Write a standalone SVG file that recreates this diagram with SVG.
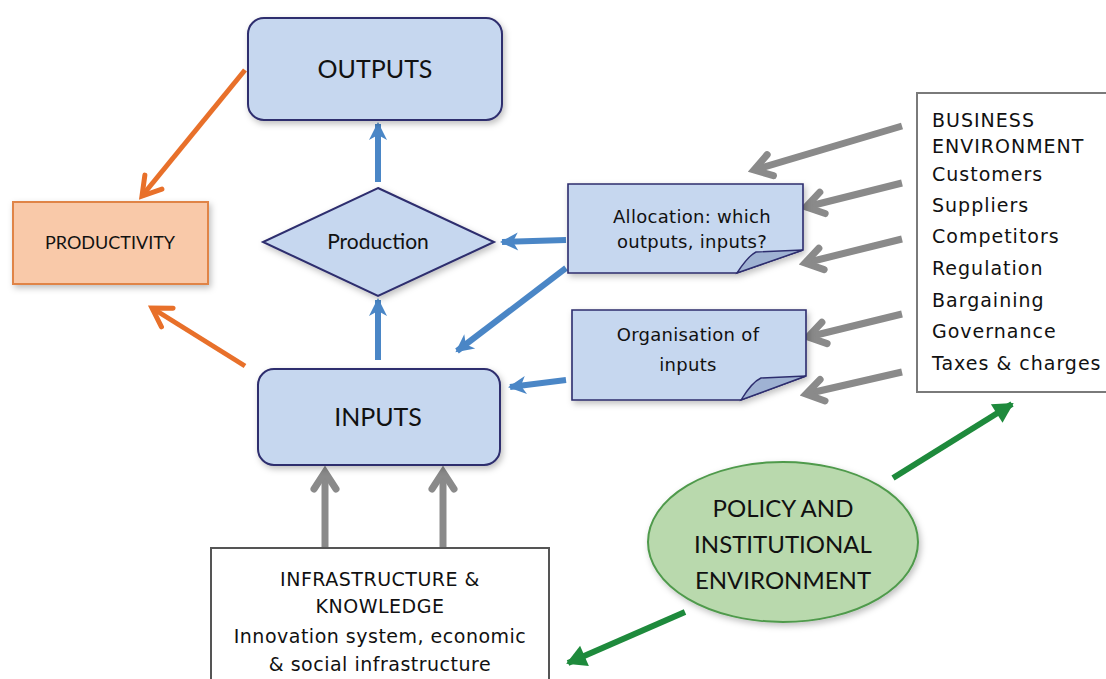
<svg xmlns="http://www.w3.org/2000/svg" width="1106" height="679" viewBox="0 0 1106 679">
<defs>
<filter id="sh" x="-10%" y="-10%" width="130%" height="130%">
<feDropShadow dx="2" dy="3" stdDeviation="3" flood-color="#000" flood-opacity="0.25"/>
</filter>
<marker id="mGray" markerUnits="userSpaceOnUse" viewBox="-24 -16 30 32" refX="0" refY="0" markerWidth="30" markerHeight="32" orient="auto">
<path d="M-17 -11 L0 0 L-17 11" fill="none" stroke="#8a8a8a" stroke-width="7" stroke-linecap="round" stroke-linejoin="miter"/>
</marker>
<marker id="mOrange" markerUnits="userSpaceOnUse" viewBox="-24 -16 30 32" refX="0" refY="0" markerWidth="30" markerHeight="32" orient="auto">
<path d="M-18 -11 L0 0 L-18 11" fill="none" stroke="#e8702a" stroke-width="5" stroke-linecap="round"/>
</marker>
<marker id="mBlue" markerUnits="userSpaceOnUse" viewBox="-20 -12 24 24" refX="0" refY="0" markerWidth="24" markerHeight="24" orient="auto">
<path d="M2 0 L-16 -9 L-11 0 L-16 9 Z" fill="#4a86c6"/>
</marker>
<marker id="mGreen" markerUnits="userSpaceOnUse" viewBox="-22 -14 26 28" refX="0" refY="0" markerWidth="26" markerHeight="28" orient="auto">
<path d="M2 0 L-18 -11 L-18 11 Z" fill="#1e8a3c"/>
</marker>
</defs>
<style>
.blue{fill:#c6d7ef;stroke:#2d2d6e;stroke-width:2}
.note{fill:#c6d7ef;stroke:#2d2d6e;stroke-width:1.6}
.cal{font-family:Lato,"Open Sans","Liberation Sans",sans-serif;fill:#111;text-anchor:middle}
.dv{font-family:"DejaVu Sans","Liberation Sans",sans-serif;fill:#111}
.gray{stroke:#8a8a8a;stroke-width:7;fill:none;marker-end:url(#mGray)}
.bl{stroke:#4a86c6;stroke-width:6;fill:none;marker-end:url(#mBlue)}
.or{stroke:#e8702a;stroke-width:5;fill:none;marker-end:url(#mOrange)}
.gr{stroke:#1e8a3c;stroke-width:6;fill:none;marker-end:url(#mGreen)}
</style>
<rect width="1106" height="679" fill="#ffffff"/>

<g id="connectors">
<line class="or" x1="245" y1="70" x2="142" y2="196"/>
<line class="or" x1="245" y1="366" x2="152" y2="308"/>
<line class="bl" x1="378" y1="182" x2="378" y2="124"/>
<line class="bl" x1="378" y1="360" x2="378" y2="300"/>
<line class="bl" x1="566" y1="240" x2="502" y2="242"/>
<line class="bl" x1="566" y1="268" x2="457" y2="351"/>
<line class="bl" x1="566" y1="380" x2="510" y2="387"/>
<line class="gray" x1="902" y1="126" x2="754" y2="170"/>
<line class="gray" x1="902" y1="183" x2="806" y2="207"/>
<line class="gray" x1="902" y1="239" x2="805" y2="263"/>
<line class="gray" x1="902" y1="314" x2="808" y2="337"/>
<line class="gray" x1="902" y1="372" x2="806" y2="394"/>
<line class="gray" x1="325" y1="548" x2="325" y2="472"/>
<line class="gray" x1="443" y1="548" x2="443" y2="472"/>
<line class="gr" x1="893" y1="478" x2="1012" y2="404"/>
<line class="gr" x1="685" y1="612" x2="568" y2="663"/>
</g>

<g id="outputs">
<rect class="blue" x="248" y="18" width="254" height="102" rx="16" filter="url(#sh)"/>
<text class="cal" x="375" y="78" font-size="25">OUTPUTS</text>
</g>

<g id="productivity">
<rect x="13" y="202" width="195" height="82" fill="#f9c9a9" stroke="#e08446" stroke-width="2" filter="url(#sh)"/>
<text class="cal" x="110" y="249" font-size="18">PRODUCTIVITY</text>
</g>

<g id="production">
<polygon class="blue" points="378,188 494,242 378,296 263,242" filter="url(#sh)"/>
<text class="cal" x="378" y="249" font-size="21">Production</text>
</g>

<g id="inputs">
<rect class="blue" x="258" y="369" width="242" height="96" rx="16" filter="url(#sh)"/>
<text class="cal" x="378" y="426" font-size="25">INPUTS</text>
</g>

<g id="allocation">
<path class="note" d="M568 184 H803 V250 L737 273 H568 Z" filter="url(#sh)"/>
<path d="M737 273 Q748 256 756 252 L803 250 Z" fill="#9fb2d3" stroke="#2d2d6e" stroke-width="1.4"/>
<text class="dv" x="692" y="223" font-size="18" letter-spacing="0.3" text-anchor="middle">Allocation: which</text>
<text class="dv" x="692" y="248" font-size="18" letter-spacing="0.3" text-anchor="middle">outputs, inputs?</text>
</g>

<g id="organisation">
<path class="note" d="M572 310 H806 V376 L741 400 H572 Z" filter="url(#sh)"/>
<path d="M741 400 Q752 382 761 378 L806 376 Z" fill="#9fb2d3" stroke="#2d2d6e" stroke-width="1.4"/>
<text class="dv" x="688" y="341" font-size="18" letter-spacing="0.3" text-anchor="middle">Organisation of</text>
<text class="dv" x="688" y="371" font-size="18" letter-spacing="0.3" text-anchor="middle">inputs</text>
</g>

<g id="business">
<rect x="917" y="93" width="200" height="299" fill="#ffffff" stroke="#7a7a7a" stroke-width="2"/>
<g class="dv" font-size="19" letter-spacing="1">
<text x="932" y="127">BUSINESS</text>
<text x="932" y="153">ENVIRONMENT</text>
<text x="932" y="181">Customers</text>
<text x="932" y="212">Suppliers</text>
<text x="932" y="243">Competitors</text>
<text x="932" y="275">Regulation</text>
<text x="932" y="307">Bargaining</text>
<text x="932" y="338">Governance</text>
<text x="932" y="370">Taxes &amp; charges</text>
</g>
</g>

<g id="infrastructure">
<rect x="211" y="548" width="338" height="140" fill="#ffffff" stroke="#555555" stroke-width="2"/>
<g class="dv" font-size="19" letter-spacing="0.5" text-anchor="middle">
<text x="380" y="586">INFRASTRUCTURE &amp;</text>
<text x="380" y="613">KNOWLEDGE</text>
<text x="380" y="643">Innovation system, economic</text>
<text x="380" y="671">&amp; social infrastructure</text>
</g>
</g>

<g id="policy">
<ellipse cx="783" cy="542" rx="135" ry="80" fill="#b9d9ad" stroke="#4f9a4c" stroke-width="2" filter="url(#sh)"/>
<text class="cal" x="783" y="517" font-size="24">POLICY AND</text>
<text class="cal" x="783" y="553" font-size="24">INSTITUTIONAL</text>
<text class="cal" x="783" y="589" font-size="24">ENVIRONMENT</text>
</g>
</svg>
